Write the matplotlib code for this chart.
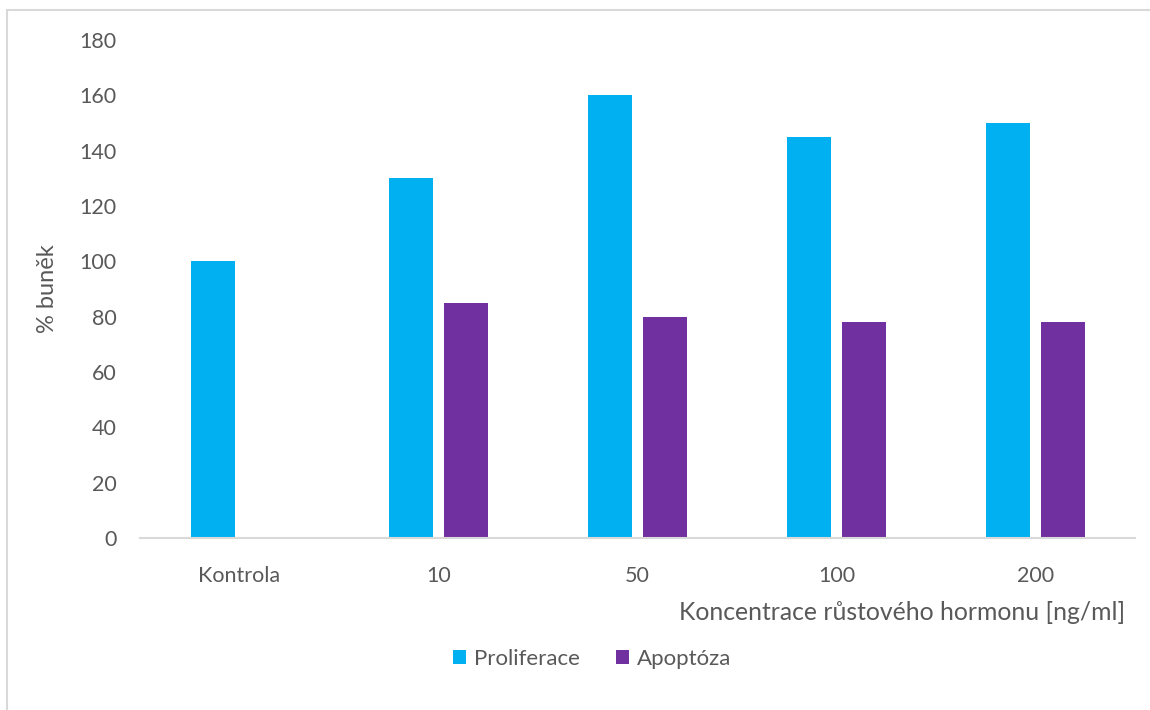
import numpy as np
import matplotlib.pyplot as plt
from matplotlib.patches import Rectangle

plt.rcParams['font.family'] = ['Lato', 'DejaVu Sans']

categories = ['Kontrola', '10', '50', '100', '200']
proliferace = [100, 130, 160, 145, 150]
apoptoza = [np.nan, 85, 80, 78, 78]

text_col = '#595959'
blue = '#00B0F0'
purple = '#7030A0'

fig = plt.figure(figsize=(11.5, 7.1), dpi=100)
ax = fig.add_axes([140 / 1150, 172 / 710, 995 / 1150, 498 / 710])

x = np.arange(len(categories))
w = 0.22
ax.bar(x[:1] - 0.135, proliferace[:1], w, color=blue, linewidth=0)
ax.bar(x[1:] - 0.14, proliferace[1:], w, color=blue, linewidth=0,
       label='Proliferace')
ax.bar(x[1:] + 0.14, apoptoza[1:], w, color=purple, linewidth=0,
       label='Apoptóza')

ax.set_xlim(-0.5, 4.5)
ax.set_ylim(0, 180)
ax.set_yticks(range(0, 181, 20))
ax.set_xticks(x)
ax.set_xticklabels(categories)

for side in ['top', 'right', 'left']:
    ax.spines[side].set_visible(False)
ax.spines['bottom'].set_color('#D9D9D9')
ax.spines['bottom'].set_linewidth(1.5)
ax.tick_params(axis='both', length=0, labelsize=15.5, colors=text_col)
ax.tick_params(axis='y', pad=17)
ax.tick_params(axis='x', pad=20)

ax.set_ylabel('% buněk', fontsize=17, color=text_col, labelpad=15)
fig.text(1125 / 1150, 1 - 613 / 710, 'Koncentrace růstového hormonu [ng/ml]',
         ha='right', va='center', fontsize=17.8, color=text_col)

# legend below the axis title
fig.legend(loc='center', bbox_to_anchor=(592 / 1150, 1 - 659 / 710), ncol=2,
           frameon=False, fontsize=16, labelcolor=text_col,
           handlelength=0.6, handleheight=0.6, handletextpad=0.35,
           columnspacing=1.6)

# outer chart border
fig.patches.append(Rectangle((7 / 1150, -0.1), 1.2, 1 - 10 / 710 + 0.1,
                             transform=fig.transFigure, fill=False,
                             edgecolor='#D9D9D9', linewidth=1.5))

fig.savefig('out.png', dpi=100)
